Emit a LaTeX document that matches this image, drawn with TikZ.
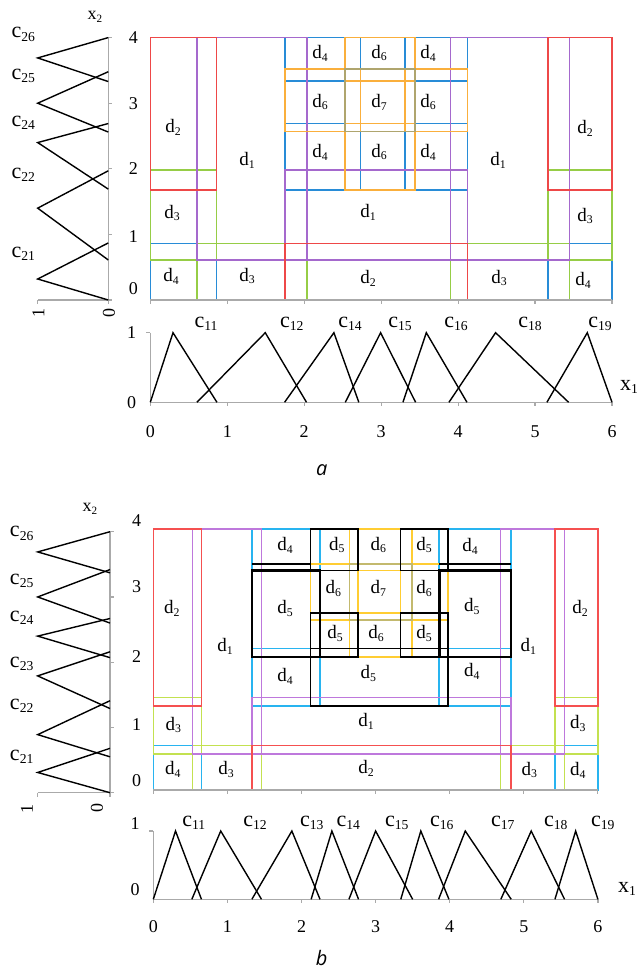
\documentclass[tikz,border=0pt]{standalone}
\usepackage{fontspec}
\setmainfont{Liberation Serif}
\newfontfamily\capfont{Open Sans}
\usepackage{graphicx}
\definecolor{axgray}{RGB}{170,170,170}
\definecolor{aRed}{RGB}{238,72,72}
\definecolor{aPur}{RGB}{165,105,205}
\definecolor{aGrn}{RGB}{150,205,70}
\definecolor{aBlu}{RGB}{40,140,215}
\definecolor{aOrg}{RGB}{250,175,60}
\definecolor{aOlv}{RGB}{175,165,110}
\definecolor{bRed}{RGB}{245,80,80}
\definecolor{bPur}{RGB}{190,120,220}
\definecolor{bGrn}{RGB}{195,225,80}
\definecolor{bBlu}{RGB}{40,180,240}
\definecolor{bYel}{RGB}{255,205,50}
\definecolor{bOlv}{RGB}{195,185,110}
\newcommand{\sbs}[1]{\raisebox{-0.15em}{\scalebox{0.62}{#1}}}
\newcommand{\dd}[1]{d\sbs{#1}}
\newcommand{\cc}[1]{c\sbs{#1}}
\begin{document}
\begin{tikzpicture}[x=1pt,y=-1pt,
  every node/.style={inner sep=0pt, outer sep=0pt},
  dlab/.style={font=\fontsize{19}{21}\selectfont},
  clab/.style={font=\fontsize{22}{24}\selectfont, anchor=base},
  numl/.style={font=\fontsize{18}{20}\selectfont},
  capt/.style={font=\capfont\itshape\fontsize{20}{24}\selectfont},
  gax/.style={draw=axgray, line width=1.2pt},
  tri/.style={draw=black, line width=1.4pt, line join=miter},
  rl/.style={line width=1.6pt},
  bk/.style={draw=black, line width=1.6pt},
  bkt/.style={draw=black, line width=2.6pt}
]
\useasboundingbox (0,0) rectangle (637,971);

%================ PANEL a =================
\begin{scope}[shift={(108.3,300)}, x={(-70.6pt,0pt)}, y=65.6pt]
  \draw[gax] (0,0) -- (0,4);
  \foreach \k in {0,...,4} \draw[gax] (0,\k) -- ++(4pt,0pt);
  \draw[gax] (0,0) -- (1,0);
  \foreach \k in {0,1} \draw[gax] (\k,0) -- ++(0pt,-4pt);
  \draw[tri] (0,4) -- (1,3.69) -- (0,3.33);
  \draw[tri] (0,3.48) -- (1,3.0) -- (0,2.56);
  \draw[tri] (0,2.69) -- (1,2.40) -- (0,1.69);
  \draw[tri] (0,1.97) -- (1,1.40) -- (0,0.61);
  \draw[tri] (0,0.87) -- (1,0.32) -- (0,0);
\end{scope}

\begin{scope}[shift={(150.3,300)}, x=76.95pt, y=65.58pt, rl]
  \foreach \xa/\ya/\xb/\yb in {0/0/0.86/0.86, 5.17/0/6/0.86, 1.75/3.34/2.73/4, 3.31/3.34/4.12/4, 1.75/1.68/2.73/2.69, 3.31/1.68/4.12/2.69}
    \draw[aBlu] (\xa,\ya) rectangle (\xb,\yb);
  \foreach \xa/\ya/\xb/\yb in {0/0.61/0.86/1.98, 0.61/0/2.04/0.86, 3.90/0/5.45/0.86, 5.17/0.61/6/1.98}
    \draw[aGrn] (\xa,\ya) rectangle (\xb,\yb);
  \foreach \xa/\ya/\xb/\yb in {0.61/0.61/2.04/4, 3.90/0.61/5.45/4, 1.75/0.61/4.12/1.98}
    \draw[aPur] (\xa,\ya) rectangle (\xb,\yb);
  \foreach \xa/\ya/\xb/\yb in {0/1.68/0.86/4, 5.17/1.68/6/4, 1.75/0/4.12/0.86}
    \draw[aRed] (\xa,\ya) rectangle (\xb,\yb);
  \foreach \xa/\ya/\xb/\yb in {2.53/3.34/3.44/4, 1.75/2.57/2.73/3.52, 3.31/2.57/4.12/3.52, 2.53/1.68/3.44/2.69}
    \draw[aOrg] (\xa,\ya) rectangle (\xb,\yb);
  \draw[aOlv] (2.53,2.57) rectangle (3.44,3.52);
  \draw[gax] (0,0) -- (6,0);
  \foreach \k in {0,...,6} \draw[gax] (\k,0) -- ++(0pt,-4pt);
\end{scope}

\begin{scope}[shift={(150.3,402.3)}, x=76.95pt, y=69.6pt]
  \draw[gax] (0,0) -- (0,1);
  \draw[gax] (0,1) -- ++(-4pt,0pt);
  \draw[gax] (0,0) -- (6,0);
  \foreach \k in {0,...,6} \draw[gax] (\k,0) -- ++(0pt,-4pt);
  \draw[tri] (0,0) -- (0.295,1) -- (0.866,0);
  \draw[tri] (0.606,0) -- (1.494,1) -- (2.03,0);
  \draw[tri] (1.745,0) -- (2.386,1) -- (2.71,0);
  \draw[tri] (2.534,0) -- (2.993,1) -- (3.448,0);
  \draw[tri] (3.283,0) -- (3.587,1) -- (4.115,0);
  \draw[tri] (3.881,0) -- (4.487,1) -- (5.436,0);
  \draw[tri] (5.154,0) -- (5.679,1) -- (6,0);
\end{scope}

\node[numl] (ax2) at (95,16.7) {x\sbs{2}};
\node[clab] (ac26) at (23.3,37.8) {\cc{26}};
\node[clab] (ac25) at (23.3,79.5) {\cc{25}};
\node[clab] (ac24) at (23.3,126) {\cc{24}};
\node[clab] (ac22) at (23.3,178.5) {\cc{22}};
\node[clab] (ac21) at (23.3,257) {\cc{21}};
\node[numl,rotate=90] (alm1) at (38.5,313) {1};
\node[numl,rotate=90] (alm0) at (109,313) {0};
\node[numl] (ay4) at (133.3,37.7) {4};
\node[numl] (ay3) at (133.3,103.3) {3};
\node[numl] (ay2) at (133.3,169) {2};
\node[numl] (ay1) at (133.3,237) {1};
\node[numl] (ay0) at (133.3,289) {0};
\node[numl] (am1) at (131.7,332.7) {1};
\node[numl] (am0) at (131.7,402.3) {0};
\foreach \k in {0,...,6} \node[numl] (axt\k) at (150.3+76.95*\k,431.7) {\k};
\node[clab] (bc11) at (206,327) {\cc{11}};
\node[clab] (bc12) at (291.7,327) {\cc{12}};
\node[clab] (bc14) at (350,327) {\cc{14}};
\node[clab] (bc15) at (400,327) {\cc{15}};
\node[clab] (bc16) at (456,327) {\cc{16}};
\node[clab] (bc18) at (530,327) {\cc{18}};
\node[clab] (bc19) at (600,327) {\cc{19}};
\node[clab, anchor=base west] (ax1) at (620,390) {x\sbs{1}};
\node[capt] (acap) at (321.7,470) {a};
\node[dlab] (ad01) at (173,127) {\dd{2}};
\node[dlab] (ad02) at (247,160) {\dd{1}};
\node[dlab] (ad03) at (172,213) {\dd{3}};
\node[dlab] (ad04) at (171,276) {\dd{4}};
\node[dlab] (ad05) at (247,276) {\dd{3}};
\node[dlab] (ad06) at (320,53) {\dd{4}};
\node[dlab] (ad07) at (379,53) {\dd{6}};
\node[dlab] (ad08) at (428,53) {\dd{4}};
\node[dlab] (ad09) at (320,102) {\dd{6}};
\node[dlab] (ad10) at (379,102) {\dd{7}};
\node[dlab] (ad11) at (428,102) {\dd{6}};
\node[dlab] (ad12) at (320,152) {\dd{4}};
\node[dlab] (ad13) at (379,152) {\dd{6}};
\node[dlab] (ad14) at (428,152) {\dd{4}};
\node[dlab] (ad15) at (368,212) {\dd{1}};
\node[dlab] (ad16) at (368,278) {\dd{2}};
\node[dlab] (ad17) at (498,160) {\dd{1}};
\node[dlab] (ad18) at (499,278) {\dd{3}};
\node[dlab] (ad19) at (585,128) {\dd{2}};
\node[dlab] (ad20) at (585,216) {\dd{3}};
\node[dlab] (ad21) at (583,280) {\dd{4}};

%================ PANEL b =================
\begin{scope}[shift={(110,792.7)}, x={(-72.3pt,0pt)}, y=65.25pt]
  \draw[gax] (0,0) -- (0,4);
  \foreach \k in {0,...,4} \draw[gax] (0,\k) -- ++(4pt,0pt);
  \draw[gax] (0,0) -- (1,0);
  \foreach \k in {0,1} \draw[gax] (\k,0) -- ++(0pt,-4pt);
  \draw[tri] (0,4) -- (1,3.69) -- (0,3.37);
  \draw[tri] (0,3.42) -- (1,3.0) -- (0,2.60);
  \draw[tri] (0,2.67) -- (1,2.40) -- (0,2.07);
  \draw[tri] (0,2.16) -- (1,1.79) -- (0,1.29);
  \draw[tri] (0,1.41) -- (1,0.89) -- (0,0.55);
  \draw[tri] (0,0.68) -- (1,0.31) -- (0,0);
\end{scope}

\begin{scope}[shift={(153.3,790)}, x=74.07pt, y=65.18pt, rl]
  \foreach \xa/\ya/\xb/\yb in {0/0/0.65/0.68, 5.42/0/6/0.68, 1.33/3.37/2.25/4, 3.86/3.37/4.83/4, 1.33/1.29/2.25/2.17, 3.86/1.29/4.83/2.17}
    \draw[bBlu] (\xa,\ya) rectangle (\xb,\yb);
  \foreach \xa/\ya/\xb/\yb in {0/0.55/0.65/1.42, 0.53/0/1.46/0.68, 4.69/0/5.55/0.68, 5.42/0.55/6/1.42}
    \draw[bGrn] (\xa,\ya) rectangle (\xb,\yb);
  \foreach \xa/\ya/\xb/\yb in {0.53/0.55/1.46/4, 4.69/0.55/5.55/4, 1.33/0.55/4.83/1.42}
    \draw[bPur] (\xa,\ya) rectangle (\xb,\yb);
  \foreach \xa/\ya/\xb/\yb in {0/1.29/0.65/4, 5.42/1.29/6/4, 1.33/0/4.83/0.68}
    \draw[bRed] (\xa,\ya) rectangle (\xb,\yb);
  \foreach \xa/\ya/\xb/\yb in {2.65/3.37/3.49/4, 2.12/2.61/2.76/3.47, 3.34/2.61/3.98/3.47, 2.65/2.04/3.49/2.72}
    \draw[bYel] (\xa,\ya) rectangle (\xb,\yb);
  \draw[bOlv] (2.65,2.61) rectangle (3.49,3.47);
  \foreach \xa/\ya/\xb/\yb in {2.12/3.37/2.76/4, 3.34/3.37/3.98/4, 2.12/2.04/2.76/2.72, 3.34/2.04/3.98/2.72, 2.12/1.29/3.98/2.17}
    \draw[bk] (\xa,\ya) rectangle (\xb,\yb);
  \draw[bk] (1.33,3.47) -- (2.12,3.47);
  \draw[bk] (3.86,3.47) -- (4.83,3.47);
  \draw[bkt] (1.33,2.04) rectangle (2.25,3.37);
  \draw[bkt] (3.86,2.04) rectangle (4.83,3.37);
  \draw[gax] (0,0) -- (6,0);
  \foreach \k in {0,...,6} \draw[gax] (\k,0) -- ++(0pt,-4pt);
\end{scope}

\begin{scope}[shift={(153.3,899.3)}, x=74.1pt, y=68.3pt]
  \draw[gax] (0,0) -- (0,1);
  \draw[gax] (0,1) -- ++(-4pt,0pt);
  \draw[gax] (0,0) -- (6,0);
  \foreach \k in {0,...,6} \draw[gax] (\k,0) -- ++(0pt,-4pt);
  \draw[tri] (0,0) -- (0.30,1) -- (0.65,0);
  \draw[tri] (0.52,0) -- (0.91,1) -- (1.46,0);
  \draw[tri] (1.33,0) -- (1.87,1) -- (2.25,0);
  \draw[tri] (2.13,0) -- (2.41,1) -- (2.77,0);
  \draw[tri] (2.64,0) -- (3.0,1) -- (3.50,0);
  \draw[tri] (3.34,0) -- (3.61,1) -- (3.99,0);
  \draw[tri] (3.85,0) -- (4.21,1) -- (4.83,0);
  \draw[tri] (4.69,0) -- (5.10,1) -- (5.55,0);
  \draw[tri] (5.42,0) -- (5.70,1) -- (6,0);
\end{scope}

\node[numl] (bx2) at (90,509) {x\sbs{2}};
\node[clab] (lc26) at (21.7,536.7) {\cc{26}};
\node[clab] (lc25) at (21.7,584) {\cc{25}};
\node[clab] (lc24) at (21.7,621) {\cc{24}};
\node[clab] (lc23) at (21.7,667) {\cc{23}};
\node[clab] (lc22) at (21.7,709.5) {\cc{22}};
\node[clab] (lc21) at (21.7,760.5) {\cc{21}};
\node[numl,rotate=90] (blm1) at (27,809) {1};
\node[numl,rotate=90] (blm0) at (97,808) {0};
\node[numl] (by4) at (136.7,521) {4};
\node[numl] (by3) at (136.7,587) {3};
\node[numl] (by2) at (136.7,657) {2};
\node[numl] (by1) at (136.7,725) {1};
\node[numl] (by0) at (136.7,781) {0};
\node[numl] (bm1) at (135,823.3) {1};
\node[numl] (bm0) at (135,890) {0};
\foreach \k in {0,...,6} \node[numl] (bxt\k) at (153.3+74.1*\k,926.7) {\k};
\node[clab] (kc11) at (193.8,826) {\cc{11}};
\node[clab] (kc12) at (255,826) {\cc{12}};
\node[clab] (kc13) at (311.7,826) {\cc{13}};
\node[clab] (kc14) at (348.3,826) {\cc{14}};
\node[clab] (kc15) at (396.7,826) {\cc{15}};
\node[clab] (kc16) at (441.7,826) {\cc{16}};
\node[clab] (kc17) at (502.7,826) {\cc{17}};
\node[clab] (kc18) at (555.7,826) {\cc{18}};
\node[clab] (kc19) at (602.7,826) {\cc{19}};
\node[clab, anchor=base west] (bx1) at (618,892) {x\sbs{1}};
\node[capt] (bcap) at (321.7,958) {b};
\node[dlab] (bd01) at (171.7,608.3) {\dd{2}};
\node[dlab] (bd02) at (225,646.7) {\dd{1}};
\node[dlab] (bd03) at (173.3,725) {\dd{3}};
\node[dlab] (bd04) at (172.7,769.3) {\dd{4}};
\node[dlab] (bd05) at (226,769.3) {\dd{3}};
\node[dlab] (bd06) at (285,545) {\dd{4}};
\node[dlab] (bd07) at (285,608.3) {\dd{5}};
\node[dlab] (bd08) at (285,676.7) {\dd{4}};
\node[dlab] (bd09) at (336.7,545) {\dd{5}};
\node[dlab] (bd10) at (378.3,545) {\dd{6}};
\node[dlab] (bd11) at (424,545) {\dd{5}};
\node[dlab] (bd12) at (470,546.7) {\dd{4}};
\node[dlab] (bd13) at (333.3,588.3) {\dd{6}};
\node[dlab] (bd14) at (378.3,588.3) {\dd{7}};
\node[dlab] (bd15) at (424,588.3) {\dd{6}};
\node[dlab] (bd16) at (471.7,606.7) {\dd{5}};
\node[dlab] (bd17) at (335,633.3) {\dd{5}};
\node[dlab] (bd18) at (376,633.3) {\dd{6}};
\node[dlab] (bd19) at (424,633.3) {\dd{5}};
\node[dlab] (bd20) at (368.3,673.3) {\dd{5}};
\node[dlab] (bd21) at (471.7,671.7) {\dd{4}};
\node[dlab] (bd22) at (528.3,646.7) {\dd{1}};
\node[dlab] (bd23) at (366,721.7) {\dd{1}};
\node[dlab] (bd24) at (366,768.3) {\dd{2}};
\node[dlab] (bd25) at (529.3,770) {\dd{3}};
\node[dlab] (bd26) at (580,608.3) {\dd{2}};
\node[dlab] (bd27) at (577.7,723.3) {\dd{3}};
\node[dlab] (bd28) at (577.7,770) {\dd{4}};
\end{tikzpicture}
\end{document}
